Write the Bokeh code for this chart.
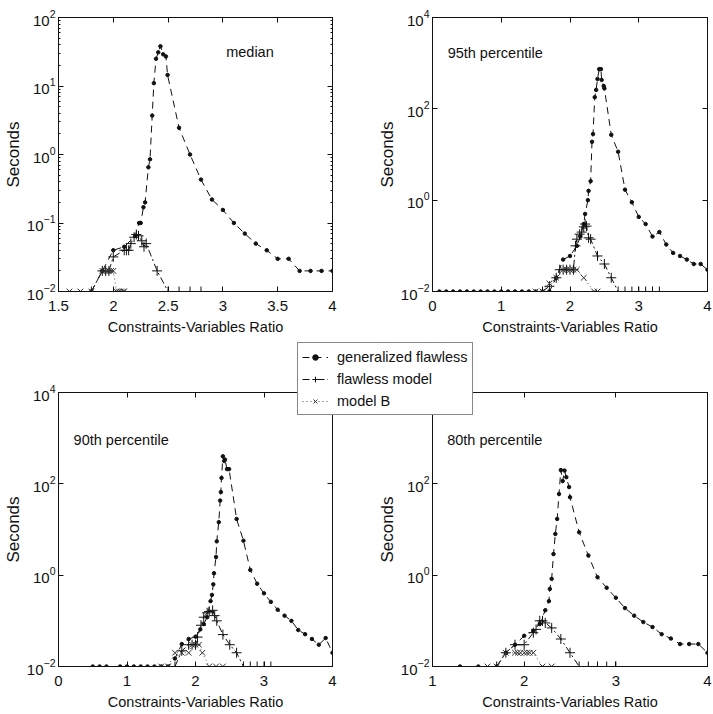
from bokeh.plotting import figure
from bokeh.layouts import column, row
from bokeh.models import (Range1d, FixedTicker, LinearAxis, LogAxis, Label, Legend,
                          LegendItem, NumeralTickFormatter)
from bokeh.embed import file_html
from bokeh.resources import INLINE

FONT = "Liberation Sans"
INK = "#111111"

# ---------------- data: run time (seconds) vs constraints/variables ratio ----------------
# median
gen_x_med = [1.8, 1.9, 2.0, 2.1, 2.2, 2.235, 2.25, 2.275, 2.29, 2.32, 2.335, 2.355, 2.37, 2.39,
             2.41, 2.43, 2.455, 2.48, 2.495, 2.6, 2.7, 2.8, 2.9, 3.0, 3.1, 3.2, 3.3, 3.4, 3.5,
             3.6, 3.7, 3.8, 3.9, 4.0]
gen_y_med = [0.01, 0.02, 0.04, 0.045, 0.065, 0.1, 0.1, 0.17, 0.2, 0.65, 0.85, 3.7, 11, 25,
             31, 38, 29, 27, 14.5, 2.45, 1.0, 0.43, 0.22, 0.155, 0.1, 0.07, 0.05, 0.04, 0.03,
             0.03, 0.02, 0.02, 0.02, 0.02]
fl_x_med = [1.8, 1.9, 1.93, 1.96, 2.0, 2.1, 2.12, 2.14, 2.16, 2.19, 2.21, 2.23, 2.26, 2.28,
            2.3, 2.4, 2.5, 2.6, 2.7, 2.8]
fl_y_med = [0.01, 0.02, 0.02, 0.02, 0.032, 0.04, 0.04, 0.04, 0.05, 0.062, 0.068, 0.065, 0.055,
            0.045, 0.05, 0.02, 0.01, 0.01, 0.01, 0.01]
mb_x_med = [1.6, 1.7, 1.8, 1.9, 1.92, 1.94, 1.96, 1.98, 2.0, 2.03, 2.05, 2.07, 2.09, 2.1]
mb_y_med = [0.01, 0.01, 0.01, 0.02, 0.02, 0.02, 0.02, 0.02, 0.02, 0.01, 0.01, 0.01, 0.01, 0.01]

# 95th percentile
gen_x_95 = [0.1, 0.2, 0.3, 0.4, 0.5, 0.6, 0.7, 0.8, 0.9, 1.0, 1.1, 1.2, 1.3, 1.4, 1.5, 1.6, 1.7,
            1.8, 1.9, 2.0, 2.1, 2.15, 2.2, 2.22, 2.26, 2.27, 2.3, 2.32, 2.335, 2.36, 2.38, 2.4,
            2.425, 2.45, 2.46, 2.49, 2.5, 2.6, 2.7, 2.8, 2.9, 3.0, 3.1, 3.2, 3.3, 3.4, 3.5,
            3.6, 3.7, 3.8, 3.9, 4.0]
gen_y_95 = [0.01, 0.01, 0.01, 0.01, 0.01, 0.01, 0.01, 0.01, 0.01, 0.01, 0.01, 0.01, 0.01, 0.01,
            0.01, 0.01, 0.01,
            0.02, 0.05, 0.06, 0.1, 0.16, 0.3, 0.5, 1.0, 1.6, 2.6, 19, 28, 180, 260, 450,
            740, 740, 430, 316, 280, 27, 11.5, 1.7, 0.9, 0.43, 0.3, 0.16, 0.2, 0.107, 0.07,
            0.06, 0.05, 0.04, 0.04, 0.03]
fl_x_95 = [1.6, 1.7, 1.8, 1.85, 1.9, 1.95, 2.0, 2.05, 2.08, 2.1, 2.14, 2.17, 2.2, 2.22, 2.24,
           2.27, 2.3, 2.4, 2.5, 2.6, 2.7, 2.8, 2.9, 3.0, 3.1, 3.2, 3.3]
fl_y_95 = [0.01, 0.013, 0.02, 0.03, 0.03, 0.03, 0.03, 0.03, 0.1, 0.14, 0.18, 0.2, 0.26, 0.3,
           0.27, 0.15, 0.14, 0.06, 0.04, 0.02, 0.01, 0.01, 0.01, 0.01, 0.01, 0.01, 0.01]
mb_x_95 = [1.5, 1.6, 1.7, 1.8, 1.9, 1.95, 2.0, 2.05, 2.1, 2.2, 2.35, 2.4]
mb_y_95 = [0.01, 0.01, 0.015, 0.02, 0.03, 0.03, 0.03, 0.03, 0.03, 0.02, 0.01, 0.01]

# 90th percentile
gen_x_90 = [0.5, 0.6, 0.7, 0.9, 1.0, 1.1, 1.2, 1.3, 1.4, 1.5, 1.6, 1.7, 1.8, 1.9, 2.0, 2.07,
            2.12, 2.17, 2.22, 2.24, 2.26, 2.27, 2.3, 2.31, 2.34, 2.36, 2.37, 2.38, 2.4, 2.42,
            2.43, 2.46, 2.49, 2.6, 2.7, 2.8, 2.9, 3.0, 3.1, 3.2, 3.3, 3.4, 3.5, 3.6, 3.7, 3.8,
            3.9, 4.0]
gen_y_90 = [0.01, 0.01, 0.01, 0.01, 0.01, 0.01, 0.01, 0.01, 0.01, 0.01, 0.01, 0.015, 0.031,
            0.04, 0.045, 0.065, 0.085, 0.12, 0.27, 0.37, 0.63, 1.1, 2.5, 5.5, 14.5, 43, 66, 135,
            400, 316, 340, 210, 210, 17, 5.7, 1.3, 0.65, 0.4, 0.26, 0.175, 0.13, 0.1, 0.063,
            0.051, 0.04, 0.03, 0.042, 0.02]
fl_x_90 = [1.7, 1.8, 1.9, 1.95, 2.0, 2.03, 2.08, 2.12, 2.17, 2.2, 2.25, 2.28, 2.31, 2.4, 2.5,
           2.6, 2.7, 2.8, 2.9, 3.0, 3.1]
fl_y_90 = [0.01, 0.022, 0.03, 0.03, 0.03, 0.044, 0.08, 0.12, 0.15, 0.16, 0.17, 0.13, 0.1, 0.05,
           0.03, 0.02, 0.01, 0.01, 0.01, 0.01, 0.01]
mb_x_90 = [1.5, 1.6, 1.7, 1.8, 1.9, 1.95, 2.0, 2.05, 2.1, 2.2, 2.3, 2.4]
mb_y_90 = [0.01, 0.01, 0.02, 0.02, 0.02, 0.03, 0.03, 0.03, 0.02, 0.01, 0.01, 0.01]

# 80th percentile
gen_x_80 = [1.3, 1.5, 1.7, 1.8, 1.9, 2.0, 2.1, 2.17, 2.23, 2.27, 2.28, 2.3, 2.32, 2.34, 2.36,
            2.38, 2.4, 2.42, 2.44, 2.46, 2.49, 2.5, 2.6, 2.7, 2.8, 2.9, 3.0, 3.1, 3.2, 3.3,
            3.4, 3.5, 3.6, 3.7, 3.8, 3.9, 4.0]
gen_y_80 = [0.01, 0.01, 0.01, 0.02, 0.03, 0.047, 0.06, 0.085, 0.17, 0.27, 0.5, 0.83, 2.9, 8,
            17, 60, 200, 115, 195, 140, 85, 51, 8.7, 2.7, 0.9, 0.53, 0.32, 0.19, 0.13, 0.094,
            0.073, 0.051, 0.041, 0.031, 0.031, 0.031, 0.02]
fl_x_80 = [1.7, 1.8, 1.9, 2.0, 2.1, 2.13, 2.17, 2.2, 2.23, 2.3, 2.4, 2.5, 2.6, 2.7, 2.8, 2.9,
           3.0]
fl_y_80 = [0.01, 0.02, 0.03, 0.03, 0.055, 0.065, 0.1, 0.1, 0.09, 0.07, 0.04, 0.02, 0.01, 0.01,
           0.01, 0.01, 0.01]
mb_x_80 = [1.6, 1.7, 1.8, 1.9, 1.93, 1.96, 2.0, 2.03, 2.06, 2.1, 2.2, 2.3]
mb_y_80 = [0.01, 0.01, 0.02, 0.02, 0.02, 0.02, 0.02, 0.02, 0.02, 0.02, 0.01, 0.01]

# axis ticks
x_ticks_med = [1.5, 2, 2.5, 3, 3.5, 4]
x_ticks_full = [0, 1, 2, 3, 4]
x_ticks_80 = [1, 2, 3, 4]
y_ticks_med = [0.01, 0.1, 1, 10, 100]
y_minor_med = [0.02, 0.03, 0.04, 0.05, 0.06, 0.07, 0.08, 0.09,
               0.2, 0.3, 0.4, 0.5, 0.6, 0.7, 0.8, 0.9,
               2, 3, 4, 5, 6, 7, 8, 9,
               20, 30, 40, 50, 60, 70, 80, 90]
y_ticks_wide = [0.01, 1, 100, 10000]

series_names = ["generalized flawless", "flawless model", "model B"]
x_title = "Constraints-Variables Ratio"
y_title = "Seconds"


def draw_series(p, gx, gy, fx, fy, mx, my):
    """Draw the three series; returns the renderer pairs used by the legend."""
    gl = p.line(gx, gy, line_color=INK, line_width=1, line_dash="7 5")
    gm = p.scatter(gx, gy, marker="circle", size=3.5, fill_color=INK, line_color=INK)
    fl = p.line(fx, fy, line_color=INK, line_width=1, line_dash="7 3 2 3")
    fm = p.scatter(fx, fy, marker="cross", size=10, line_color=INK, line_width=1)
    ml = p.line(mx, my, line_color="#555555", line_width=1, line_dash="1 3")
    mm = p.scatter(mx, my, marker="x", size=8, line_color="#333333", line_width=1)
    return [[gl, gm], [fl, fm], [ml, mm]]


def style_axis(ax, font_size="15px", standoff=3, hidden_labels=False):
    ax.axis_line_color = INK
    ax.major_tick_in = 5
    ax.major_tick_out = 0
    ax.minor_tick_in = 2
    ax.minor_tick_out = 0
    ax.major_tick_line_color = INK
    ax.minor_tick_line_color = INK
    ax.major_label_text_font = FONT
    ax.major_label_text_font_size = font_size
    ax.major_label_text_color = INK
    ax.major_label_standoff = standoff
    if hidden_labels:
        ax.major_label_text_alpha = 0


def panel(width, height, borders, x_lo, x_hi, y_lo, y_hi, x_ticks, y_ticks, y_minor,
          data, caption, cap_x, cap_y):
    left, right, top, bottom = borders
    p = figure(width=width, height=height, x_range=Range1d(x_lo, x_hi),
               y_range=Range1d(y_lo, y_hi), y_axis_type="log",
               output_backend="svg", toolbar_location=None,
               min_border_left=left, min_border_right=right,
               min_border_top=top, min_border_bottom=bottom,
               outline_line_color=INK, outline_line_width=1,
               background_fill_color="white", border_fill_color="white")
    p.xgrid.visible = False
    p.ygrid.visible = False

    xa = p.below[0]
    xa.ticker = FixedTicker(ticks=x_ticks)
    xa.formatter = NumeralTickFormatter(format="0.[0]")
    style_axis(xa, standoff=9)
    xa.axis_label = x_title
    xa.axis_label_text_font = FONT
    xa.axis_label_text_font_size = "14.5px"
    xa.axis_label_text_font_style = "normal"
    xa.axis_label_text_color = INK
    xa.axis_label_standoff = 5

    ya = p.left[0]
    ya.ticker = FixedTicker(ticks=y_ticks, minor_ticks=y_minor)
    style_axis(ya, standoff=3)
    ya.axis_label = y_title
    ya.axis_label_text_font = FONT
    ya.axis_label_text_font_size = "17px"
    ya.axis_label_text_font_style = "normal"
    ya.axis_label_text_color = INK
    ya.axis_label_standoff = 1

    # mirrored ticks on the top and right edges of the box
    top_ax = LinearAxis(ticker=FixedTicker(ticks=x_ticks))
    style_axis(top_ax, font_size="2px", standoff=0, hidden_labels=True)
    p.add_layout(top_ax, "above")
    right_ax = LogAxis(ticker=FixedTicker(ticks=y_ticks, minor_ticks=y_minor))
    style_axis(right_ax, font_size="2px", standoff=0, hidden_labels=True)
    p.add_layout(right_ax, "right")

    pairs = draw_series(p, *data)
    p.add_layout(Label(x=cap_x, y=cap_y, text=caption, text_font=FONT,
                       text_font_size="14.5px", text_baseline="middle", text_color=INK))
    return p, pairs


p1, _ = panel(362, 345, (57, 30, 17, 54), 1.5, 4, 0.01, 100, x_ticks_med, y_ticks_med,
              y_minor_med, (gen_x_med, gen_y_med, fl_x_med, fl_y_med, mb_x_med, mb_y_med),
              "median", 3.03, 31)
p2, _ = panel(351, 345, (70, 6, 17, 54), 0, 4, 0.01, 10000, x_ticks_full, y_ticks_wide, [],
              (gen_x_95, gen_y_95, fl_x_95, fl_y_95, mb_x_95, mb_y_95),
              "95th percentile", 0.22, 1700)
p3, _ = panel(362, 369, (57, 30, 47, 48), 0, 4, 0.01, 10000, x_ticks_full, y_ticks_wide, [],
              (gen_x_90, gen_y_90, fl_x_90, fl_y_90, mb_x_90, mb_y_90),
              "90th percentile", 0.22, 890)
p4, _ = panel(351, 369, (70, 6, 47, 48), 1, 4, 0.01, 10000, x_ticks_80, y_ticks_wide, [],
              (gen_x_80, gen_y_80, fl_x_80, fl_y_80, mb_x_80, mb_y_80),
              "80th percentile", 1.16, 890)

# shared legend, floating over the gap between the rows; its sample renderers sit
# outside the visible range so only the legend swatches show
pleg = figure(width=190, height=80, x_range=Range1d(0, 1), y_range=Range1d(0, 1),
              output_backend="svg", toolbar_location=None, min_border=0,
              x_axis_location=None, y_axis_location=None, outline_line_color=None,
              background_fill_alpha=0, border_fill_alpha=0)
pleg.grid.visible = False
off = [-10, -9]
leg_pairs = draw_series(pleg, off, off, off, off, off, off)
legend = Legend(items=[LegendItem(label=n, renderers=r) for n, r in zip(series_names, leg_pairs)],
                location="top_left", orientation="vertical", margin=5, padding=4, spacing=3,
                label_height=19, glyph_height=14, glyph_width=26, label_standoff=9,
                label_text_font=FONT, label_text_font_size="14.5px", label_text_color=INK,
                border_line_color=INK, border_line_width=1,
                background_fill_color="white", background_fill_alpha=1)
pleg.add_layout(legend)
pleg.margin = (-377, 0, 0, 292)

layout = column(row(p1, p2), row(p3, p4), pleg)

open("out.html", "w").write(file_html(layout, INLINE))
